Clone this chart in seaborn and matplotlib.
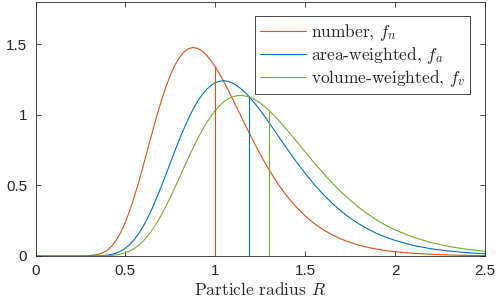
#!/usr/bin/env python3
"""Particle size distributions: number, area- and volume-weighted densities."""
import matplotlib as mpl
import matplotlib.pyplot as plt
import pandas as pd
import seaborn as sns

# Radius grid
radius = [0.0, 0.1, 0.2, 0.25, 0.30, 0.35, 0.375, 0.40, 0.425, 0.45, 0.475, 0.50,
          0.525, 0.55, 0.575, 0.60, 0.625, 0.65, 0.675, 0.70, 0.725, 0.75, 0.775,
          0.80, 0.825, 0.85, 0.875, 0.90, 0.925, 0.95, 0.975, 1.00, 1.025, 1.05,
          1.075, 1.10, 1.125, 1.15, 1.175, 1.20, 1.225, 1.25, 1.275, 1.30, 1.325,
          1.35, 1.375, 1.40, 1.425, 1.45, 1.50, 1.55, 1.60, 1.65, 1.70, 1.75, 1.80,
          1.85, 1.90, 1.95, 2.00, 2.10, 2.20, 2.30, 2.40, 2.50]

f_number = [0.0, 0.0, 0.0, 0.0, 0.002, 0.012, 0.023, 0.042, 0.072, 0.114, 0.169, 0.239,
            0.324, 0.421, 0.528, 0.643, 0.761, 0.878, 0.993, 1.100, 1.196, 1.280, 1.350,
            1.404, 1.443, 1.467, 1.475, 1.470, 1.452, 1.423, 1.384, 1.338, 1.284, 1.227,
            1.165, 1.100, 1.035, 0.970, 0.905, 0.841, 0.779, 0.719, 0.662, 0.608, 0.557,
            0.508, 0.463, 0.421, 0.382, 0.347, 0.283, 0.230, 0.186, 0.149, 0.120, 0.096,
            0.076, 0.060, 0.048, 0.038, 0.030, 0.019, 0.012, 0.007, 0.004, 0.003]

f_area = [0.0, 0.0, 0.0, 0.0, 0.0, 0.001, 0.003, 0.006, 0.012, 0.021, 0.035, 0.055,
          0.082, 0.117, 0.160, 0.212, 0.273, 0.340, 0.415, 0.494, 0.576, 0.660, 0.743,
          0.824, 0.900, 0.971, 1.035, 1.092, 1.139, 1.177, 1.206, 1.226, 1.237, 1.240,
          1.234, 1.220, 1.201, 1.175, 1.145, 1.110, 1.071, 1.030, 0.987, 0.941, 0.896,
          0.849, 0.802, 0.757, 0.712, 0.668, 0.584, 0.506, 0.436, 0.373, 0.317, 0.268,
          0.226, 0.190, 0.158, 0.132, 0.110, 0.075, 0.051, 0.035, 0.023, 0.016]

f_volume = [0.0, 0.0, 0.0, 0.0, 0.0, 0.0, 0.001, 0.002, 0.004, 0.008, 0.014, 0.023,
            0.036, 0.054, 0.077, 0.107, 0.143, 0.186, 0.235, 0.291, 0.351, 0.416, 0.484,
            0.554, 0.624, 0.694, 0.761, 0.826, 0.885, 0.940, 0.988, 1.030, 1.065, 1.094,
            1.115, 1.128, 1.135, 1.136, 1.130, 1.119, 1.103, 1.082, 1.057, 1.028, 0.997,
            0.963, 0.927, 0.891, 0.852, 0.814, 0.736, 0.659, 0.586, 0.517, 0.453, 0.395,
            0.342, 0.295, 0.253, 0.216, 0.184, 0.133, 0.095, 0.067, 0.047, 0.033]

labels = ["number, $f_n$", "area-weighted, $f_a$", "volume-weighted, $f_v$"]
colors = ["#D95319", "#0072BD", "#77AC30"]

# Mean radius of each distribution and the curve height there
mean_radius = [1.00, 1.19, 1.30]
mean_height = [1.338, 1.124, 1.030]

sns.set_theme(style="ticks")
mpl.rcParams.update({
    "font.family": ["Liberation Sans", "DejaVu Sans"],
    "mathtext.fontset": "cm",
    "axes.edgecolor": "#262626",
    "axes.linewidth": 0.6,
    "xtick.direction": "in",
    "ytick.direction": "in",
    "xtick.top": True,
    "ytick.right": True,
    "xtick.major.size": 3.5,
    "ytick.major.size": 3.5,
    "xtick.major.width": 0.6,
    "ytick.major.width": 0.6,
    "xtick.color": "#262626",
    "ytick.color": "#262626",
    "xtick.labelsize": 11,
    "ytick.labelsize": 11,
})

df = pd.DataFrame({
    "R": radius * 3,
    "f": f_number + f_area + f_volume,
    "kind": [labels[0]] * len(radius) + [labels[1]] * len(radius) + [labels[2]] * len(radius),
})

fig = plt.figure(figsize=(4.98, 3.05), dpi=100)
ax = fig.add_axes([0.0713, 0.1607, 0.9027, 0.834])

sns.lineplot(data=df, x="R", y="f", hue="kind", palette=colors, linewidth=0.8,
             ax=ax, legend=False)
ax.vlines(mean_radius, 0, mean_height, colors=colors, linewidth=0.8)

ax.set_xlim(0, 2.5)
ax.set_ylim(0, 1.8)
ax.set_xticks([0, 0.5, 1, 1.5, 2, 2.5], ["0", "0.5", "1", "1.5", "2", "2.5"])
ax.set_yticks([0, 0.5, 1, 1.5], ["0", "0.5", "1", "1.5"])
ax.tick_params(axis="x", pad=6)
ax.tick_params(axis="y", pad=6)
ax.set_xlabel("Particle radius $R$", family="cmr10", fontsize=12.5, labelpad=2)
ax.set_ylabel("")

handles = [mpl.lines.Line2D([], [], color=c, linewidth=0.8) for c in colors]
leg = ax.legend(handles, labels, loc="upper right", prop={"family": "cmr10", "size": 12.5},
                frameon=True, fancybox=False, framealpha=1, edgecolor="#262626",
                borderaxespad=0.85, handlelength=2.6, handletextpad=0.3,
                labelspacing=0.12, borderpad=0.3)
leg.get_frame().set_linewidth(0.6)

fig.savefig("out.png", dpi=100)
